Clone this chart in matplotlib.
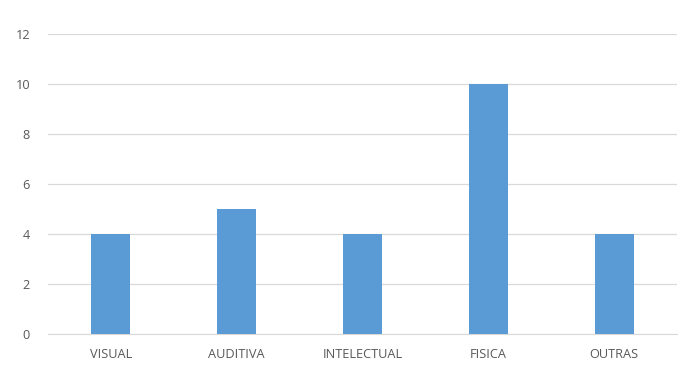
import matplotlib
matplotlib.use("Agg")
import matplotlib.pyplot as plt

categories = ["VISUAL", "AUDITIVA", "INTELECTUAL", "FISICA", "OUTRAS"]
values = [4, 5, 4, 10, 4]
yticks = [0, 2, 4, 6, 8, 10, 12]

plt.rcParams["font.family"] = ["Open Sans", "DejaVu Sans"]

fig = plt.figure(figsize=(6.88, 3.73), dpi=100)
ax = fig.add_axes([0.0698, 0.1046, 0.9142, 0.8044])

ax.bar(range(len(categories)), values, width=0.31, color="#5B9BD5", zorder=3)

ax.set_xlim(-0.5, len(categories) - 0.5)
ax.set_ylim(0, 12)
ax.set_yticks(yticks)
ax.set_xticks(range(len(categories)))
ax.set_xticklabels(categories)
ax.tick_params(axis="both", length=0, labelsize=9.2, colors="#595959")
ax.tick_params(axis="y", pad=13)
ax.tick_params(axis="x", pad=10)
ax.grid(axis="y", color="#D9D9D9", lw=0.9, zorder=0)
for side in ["top", "right", "left"]:
    ax.spines[side].set_visible(False)
ax.spines["bottom"].set_color("#D9D9D9")

fig.savefig("out.png", dpi=100)
